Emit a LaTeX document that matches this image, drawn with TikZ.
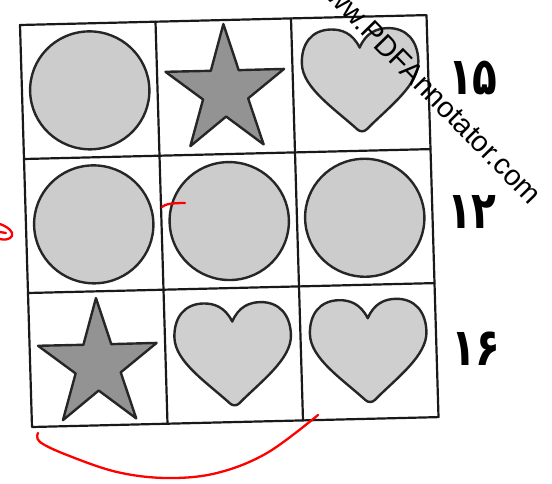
\documentclass[tikz,border=0pt]{standalone}
\usepackage{graphicx}
\usepackage{fontspec}
\setmainfont{Liberation Sans}
\newfontfamily\digitfont[Script=Arabic]{DejaVu Sans}

\tikzset{
  cellline/.style={line width=2.2pt, line cap=round, line join=round, color=black!90},
  shapeline/.style={line width=2.4pt, line join=round, color=black!85},
  redpen/.style={color=red, line width=2.3pt, line cap=round, line join=round},
  digit/.style={inner sep=0pt, font=\digitfont\bfseries\fontsize{52}{52}\selectfont},
  watermark/.style={inner sep=0pt, font=\fontsize{29}{29}\selectfont},
  pics/roundshape/.style={code={
    \filldraw[shapeline, fill=gray!40] (0,0) circle (0.44);
  }},
  pics/starshape/.style={code={
    \filldraw[shapeline, fill=gray!85] (90:0.46 and 0.5) -- (126:0.175 and 0.19) -- (162:0.46 and 0.5) -- (198:0.175 and 0.19) -- (234:0.46 and 0.5) -- (270:0.175 and 0.19) -- (306:0.46 and 0.5) -- (342:0.175 and 0.19) -- (18:0.46 and 0.5) -- (54:0.175 and 0.19) -- cycle;
  }},
  pics/heartshape/.style={code={
    \filldraw[shapeline, fill=gray!38] (0,0.25) .. controls (0.05,0.36) and (0.13,0.39) .. (0.21,0.39)
      .. controls (0.35,0.39) and (0.43,0.29) .. (0.43,0.14)
      .. controls (0.43,-0.04) and (0.2,-0.2) .. (0.035,-0.36)
      .. controls (0.015,-0.38) and (-0.015,-0.38) .. (-0.035,-0.36)
      .. controls (-0.2,-0.2) and (-0.43,-0.04) .. (-0.43,0.14)
      .. controls (-0.43,0.29) and (-0.35,0.39) .. (-0.21,0.39)
      .. controls (-0.13,0.39) and (-0.05,0.36) .. (0,0.25) -- cycle;
  }},
}

\begin{document}
\begin{tikzpicture}[x=1pt, y=-1pt]
    \useasboundingbox (0,0) rectangle (552,483);
    \begin{scope}[shift={(32,427)}, x={(135.5pt,3.3pt)}, y={(-4pt,134pt)}]
        % grid
        \draw[cellline] (0,0) -- (3,0) -- (3,3) -- (0,3) -- cycle;
        \foreach \i in {1,2} {
            \draw[cellline] (\i,0) -- (\i,3);
            \draw[cellline] (0,\i) -- (3,\i);
        }
        % top row
        \pic at (0.5,2.5) {roundshape};
        \pic at (1.5,2.47) {starshape};
        \pic at (2.5,2.52) {heartshape};
        % middle row
        \pic at (0.5,1.5) {roundshape};
        \pic at (1.5,1.5) {roundshape};
        \pic at (2.5,1.5) {roundshape};
        % bottom row
        \pic at (0.5,0.45) {starshape};
        \pic at (1.5,0.5) {heartshape};
        \pic at (2.5,0.5) {heartshape};
    \end{scope}
    %
    \node[digit] (sum15) at (473,78) {\scalebox{0.78}[1]{۱۵}};
    \node[digit] (sum12) at (472,212) {\scalebox{0.78}[1]{۱۲}};
    \node[digit] (sum16) at (476,349) {\scalebox{0.78}[1]{۱۶}};
    %
    \node[watermark, rotate=-45.5, anchor=base east] (wm) at (530,206) {www.PDFAnnotator.com};
    %
    \draw[redpen] plot[smooth, tension=0.6] coordinates {(38,433) (40,442) (67,455) (117,472) (167,478) (217,473) (267,453) (318,415)};
    \draw[redpen] (162,207) .. controls (165,204) and (172,203) .. (185,203);
    \draw[redpen] (0,224) .. controls (8,227) and (14,232) .. (12,236) .. controls (10,240) and (3,240) .. (0,239);
    \draw[redpen] (0,232) -- (6,233);
\end{tikzpicture}
\end{document}
